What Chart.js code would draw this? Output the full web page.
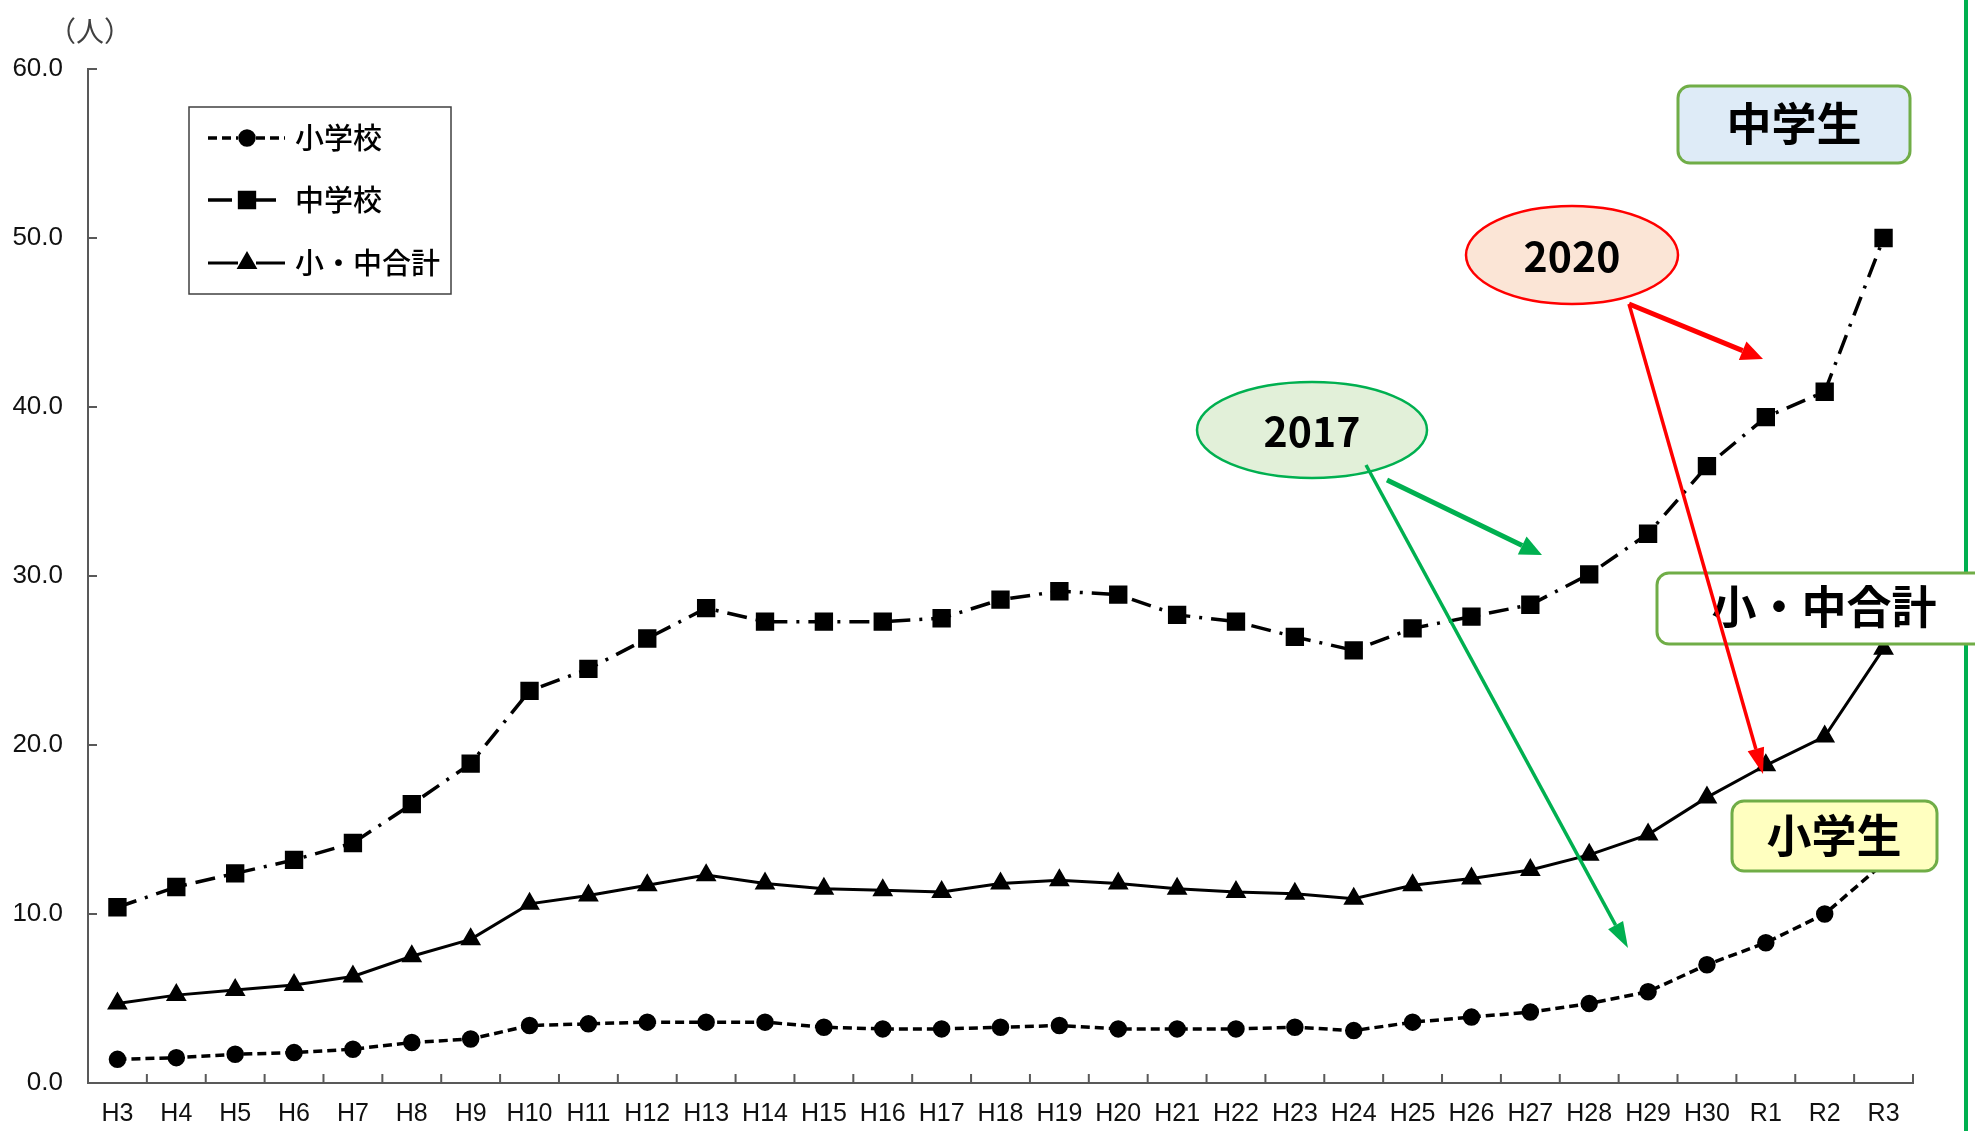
<!DOCTYPE html>
<html lang="ja">
<head>
<meta charset="utf-8">
<title>不登校児童生徒の割合の推移</title>
<script src="https://cdn.jsdelivr.net/npm/chart.js@4.4.1/dist/chart.umd.min.js"></script>
<style>
  html, body { margin: 0; padding: 0; background: #fff; }
  #wadah { position: relative; width: 1975px; height: 1131px; }
</style>
</head>
<body>
<div id="wadah"><canvas id="grafik"></canvas></div>
<script>
// 年度（カテゴリ）
const nendo = ['H3','H4','H5','H6','H7','H8','H9','H10','H11','H12','H13','H14','H15','H16','H17',
  'H18','H19','H20','H21','H22','H23','H24','H25','H26','H27','H28','H29','H30','R1','R2','R3'];
// 1,000人当たりの人数
const shogakko = [1.4,1.5,1.7,1.8,2.0,2.4,2.6,3.4,3.5,3.6,3.6,3.6,3.3,3.2,3.2,
  3.3,3.4,3.2,3.2,3.2,3.3,3.1,3.6,3.9,4.2,4.7,5.4,7.0,8.3,10.0,13.0];
const chugakko = [10.4,11.6,12.4,13.2,14.2,16.5,18.9,23.2,24.5,26.3,28.1,27.3,27.3,27.3,27.5,
  28.6,29.1,28.9,27.7,27.3,26.4,25.6,26.9,27.6,28.3,30.1,32.5,36.5,39.4,40.9,50.0];
const goukei = [4.7,5.2,5.5,5.8,6.3,7.5,8.5,10.6,11.1,11.7,12.3,11.8,11.5,11.4,11.3,
  11.8,12.0,11.8,11.5,11.3,11.2,10.9,11.7,12.1,12.6,13.5,14.7,16.9,18.8,20.5,25.7];
// 縦軸の目盛
const yTicks = [0,10,20,30,40,50,60];
const namaSeri = ['小学校', '中学校', '小・中合計'];

const warnaSumbu = '#595959';
const fontAngka = '"Liberation Sans", Arial, sans-serif';
const fontJp = '"Noto Sans CJK JP", "Noto Sans", sans-serif';

// 角丸の四角形
function kotakBulat(ctx, x, y, w, h, r) {
    ctx.beginPath();
    ctx.moveTo(x + r, y);
    ctx.arcTo(x + w, y, x + w, y + h, r);
    ctx.arcTo(x + w, y + h, x, y + h, r);
    ctx.arcTo(x, y + h, x, y, r);
    ctx.arcTo(x, y, x + w, y, r);
    ctx.closePath();
}

// 矢印
function panah(ctx, x1, y1, x2, y2, warna, tebal, panjangKepala, lebarKepala) {
    const sudut = Math.atan2(y2 - y1, x2 - x1);
    const bx = x2 - Math.cos(sudut) * panjangKepala;
    const by = y2 - Math.sin(sudut) * panjangKepala;
    ctx.save();
    ctx.strokeStyle = warna;
    ctx.fillStyle = warna;
    ctx.lineWidth = tebal;
    ctx.beginPath();
    ctx.moveTo(x1, y1);
    ctx.lineTo(bx, by);
    ctx.stroke();
    ctx.beginPath();
    ctx.moveTo(x2, y2);
    ctx.lineTo(bx + Math.sin(sudut) * lebarKepala / 2, by - Math.cos(sudut) * lebarKepala / 2);
    ctx.lineTo(bx - Math.sin(sudut) * lebarKepala / 2, by + Math.cos(sudut) * lebarKepala / 2);
    ctx.closePath();
    ctx.fill();
    ctx.restore();
}

function elips(ctx, cx, cy, rx, ry, isi, garis, teks) {
    ctx.save();
    ctx.beginPath();
    ctx.ellipse(cx, cy, rx, ry, 0, 0, Math.PI * 2);
    ctx.fillStyle = isi;
    ctx.fill();
    ctx.lineWidth = 2.5;
    ctx.strokeStyle = garis;
    ctx.stroke();
    ctx.fillStyle = '#000';
    ctx.font = 'bold 41px ' + fontJp;
    ctx.textAlign = 'center';
    ctx.textBaseline = 'middle';
    ctx.fillText(teks, cx, cy + 1);
    ctx.restore();
}

function label(ctx, x, y, w, h, isi, teks, cx, cy) {
    ctx.save();
    kotakBulat(ctx, x, y, w, h, 12);
    ctx.fillStyle = isi;
    ctx.fill();
    ctx.lineWidth = 3;
    ctx.strokeStyle = '#70AD47';
    ctx.stroke();
    ctx.fillStyle = '#000';
    ctx.font = 'bold 45px ' + fontJp;
    ctx.textAlign = 'center';
    ctx.textBaseline = 'middle';
    ctx.fillText(teks, cx, cy);
    ctx.restore();
}

// 内向きの目盛線
const pluginSumbu = {
    id: 'sumbu',
    afterDatasetsDraw(chart) {
        const { ctx, chartArea: a, scales } = chart;
        ctx.save();
        ctx.strokeStyle = warnaSumbu;
        ctx.lineWidth = 2;
        ctx.beginPath();
        yTicks.forEach(v => {
            const py = scales.y.getPixelForValue(v);
            ctx.moveTo(a.left, py);
            ctx.lineTo(a.left + 9, py);
        });
        for (let i = 1; i <= nendo.length; i++) {
            const px = i === nendo.length ? a.right
                : (scales.x.getPixelForValue(i - 1) + scales.x.getPixelForValue(i)) / 2;
            ctx.moveTo(px, a.bottom);
            ctx.lineTo(px, a.bottom - 9);
        }
        ctx.stroke();
        ctx.restore();
    }
};

// 凡例（枠付き）
const pluginLegenda = {
    id: 'legenda',
    afterDatasetsDraw(chart) {
        const ctx = chart.ctx;
        ctx.save();
        ctx.fillStyle = '#fff';
        ctx.fillRect(189, 107, 262, 187);
        ctx.strokeStyle = '#404040';
        ctx.lineWidth = 1.5;
        ctx.strokeRect(189, 107, 262, 187);
        const barisY = [138, 200, 263];
        chart.data.datasets.forEach((ds, i) => {
            const y = barisY[i];
            ctx.strokeStyle = '#000';
            ctx.lineWidth = ds.borderWidth;
            ctx.setLineDash(i === 1 ? [] : (ds.borderDash || []));
            ctx.beginPath();
            if (i === 1) {
                ctx.moveTo(208, y); ctx.lineTo(232, y);
                ctx.moveTo(256, y); ctx.lineTo(276, y);
            } else {
                ctx.moveTo(208, y); ctx.lineTo(238, y);
                ctx.moveTo(256, y); ctx.lineTo(285, y);
            }
            ctx.stroke();
            ctx.setLineDash([]);
            Chart.helpers.drawPoint(ctx, {
                pointStyle: ds.pointStyle, radius: ds.pointRadius, borderWidth: 1, rotation: 0
            }, 247, y);
            ctx.fillStyle = '#000';
            ctx.fill();
            ctx.font = '500 29px ' + fontJp;
            ctx.textAlign = 'left';
            ctx.textBaseline = 'middle';
            ctx.fillText(ds.label, 295, y);
        });
        // 単位
        ctx.fillStyle = '#404040';
        ctx.font = '28px ' + fontJp;
        ctx.textAlign = 'center';
        ctx.textBaseline = 'middle';
        ctx.fillText('（人）', 90, 31);
        ctx.restore();
    }
};

// 吹き出し・矢印
const pluginCatatan = {
    id: 'catatan',
    afterDraw(chart) {
        const ctx = chart.ctx;
        ctx.save();
        ctx.strokeStyle = '#00B050';
        ctx.lineWidth = 4;
        ctx.beginPath();
        ctx.moveTo(1966, 0);
        ctx.lineTo(1966, 1131);
        ctx.stroke();
        ctx.restore();

        label(ctx, 1678, 86, 232, 77, '#DEEBF7', '中学生', 1794, 124);
        label(ctx, 1657, 573, 360, 71, '#FFFFFF', '小・中合計', 1824, 607);
        label(ctx, 1732, 801, 205, 70, '#FFFFC0', '小学生', 1834, 836);

        elips(ctx, 1312, 430, 115, 48, '#E2F0D9', '#00B050', '2017');
        elips(ctx, 1572, 255, 106, 49, '#FBE5D6', '#FF0000', '2020');

        panah(ctx, 1387, 480, 1542, 555, '#00B050', 5, 22, 20);
        panah(ctx, 1366, 465, 1628, 948, '#00B050', 3.5, 26, 17);
        panah(ctx, 1629, 304, 1763, 359, '#FF0000', 5, 22, 20);
        panah(ctx, 1629, 304, 1763, 774, '#FF0000', 3.5, 26, 17);
    }
};

const grafik = new Chart(document.getElementById('grafik'), {
    type: 'line',
    data: {
        labels: nendo,
        datasets: [
            { label: namaSeri[0], data: shogakko, borderColor: '#000', borderWidth: 3.5, borderDash: [9, 5],
              pointStyle: 'circle', pointRadius: 7, pointBackgroundColor: '#000', pointBorderColor: '#000' },
            { label: namaSeri[1], data: chugakko, borderColor: '#000', borderWidth: 3.5, borderDash: [20, 9, 3, 9],
              pointStyle: 'rect', pointRadius: 10.5, pointBackgroundColor: '#000', pointBorderColor: '#000' },
            { label: namaSeri[2], data: goukei, borderColor: '#000', borderWidth: 3,
              pointStyle: 'triangle', pointRadius: 9, pointBackgroundColor: '#000', pointBorderColor: '#000' }
        ]
    },
    options: {
        responsive: true,
        maintainAspectRatio: false,
        animation: false,
        events: [],
        layout: { padding: { top: 69, right: 62, left: 0, bottom: 0 } },
        plugins: { legend: { display: false }, tooltip: { enabled: false } },
        scales: {
            x: {
                offset: true,
                grid: { display: false, drawTicks: false },
                border: { display: true, color: warnaSumbu, width: 2 },
                ticks: { color: '#111', padding: 16, maxRotation: 0, autoSkip: false,
                         font: { family: fontAngka, size: 25 } },
                afterFit: s => { s.height = 48; }
            },
            y: {
                min: 0, max: 60,
                afterBuildTicks: s => { s.ticks = yTicks.map(v => ({ value: v })); },
                grid: { display: false, drawTicks: false },
                border: { display: true, color: warnaSumbu, width: 2 },
                ticks: { color: '#111', padding: 25, callback: v => v.toFixed(1),
                         font: { family: fontAngka, size: 26 } },
                afterFit: s => { s.width = 88; }
            }
        }
    },
    plugins: [pluginSumbu, pluginLegenda, pluginCatatan]
});
</script>
</body>
</html>
